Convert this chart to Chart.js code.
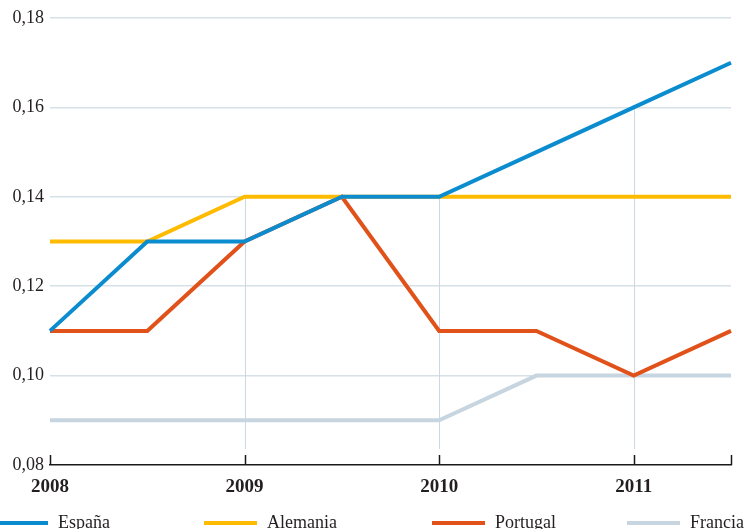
<!DOCTYPE html>
<html>
<head>
<meta charset="utf-8">
<script src="https://cdn.jsdelivr.net/npm/chart.js@4.4.1/dist/chart.umd.min.js"></script>
<style>
  html, body { margin: 0; padding: 0; background: #fff; }
  #wrap { position: relative; width: 745px; height: 529px; overflow: hidden; }
  #legend { position: absolute; left: 0; top: 510px; width: 745px; height: 24px;
            font-family: 'Liberation Serif', 'DejaVu Serif', serif; font-size: 18px; color: #231f20; }
  .item { position: absolute; top: 0; height: 24px; line-height: 24px; white-space: nowrap; }
  .sw { display: inline-block; width: 53px; height: 4px; vertical-align: middle; margin-right: 10px; position: relative; top: -1px; }
</style>
</head>
<body>
<div id="wrap">
  <canvas id="chart" width="745" height="529"></canvas>
  <div id="legend"></div>
</div>
<script>
// semi-annual periods, only full years get a tick label
const periods = ['2008', '', '2009', '', '2010', '', '2011', ''];
const espana   = [0.11, 0.13, 0.13, 0.14, 0.14, 0.15, 0.16, 0.17];
const alemania = [0.13, 0.13, 0.14, 0.14, 0.14, 0.14, 0.14, 0.14];
const portugal = [0.11, 0.11, 0.13, 0.14, 0.11, 0.11, 0.10, 0.11];
const francia  = [0.09, 0.09, 0.09, 0.09, 0.09, 0.10, 0.10, 0.10];
const seriesNames = ['España', 'Alemania', 'Portugal', 'Francia'];
const yTicks = [0.08, 0.10, 0.12, 0.14, 0.16, 0.18];

const colors = ['#0b8ccf', '#ffbb00', '#e05219', '#c6d5df'];
const FONT = "'Liberation Serif', 'DejaVu Serif', serif";

// vertical drop lines from the highest series value down to the axis
const dropLines = {
    id: 'dropLines',
    beforeDatasetsDraw(chart) {
        const { ctx, chartArea, scales } = chart;
        ctx.save();
        ctx.strokeStyle = '#cbd8e1';
        ctx.lineWidth = 1;
        periods.forEach((p, i) => {
            if (!p || i === 0) return;
            const top = Math.max(...chart.data.datasets.map(d => d.data[i]));
            const x = Math.round(scales.x.getPixelForValue(i)) + 0.5;
            ctx.beginPath();
            ctx.moveTo(x, scales.y.getPixelForValue(top));
            ctx.lineTo(x, chartArea.bottom - 16);
            ctx.stroke();
        });
        ctx.restore();
    },
    afterDatasetsDraw(chart) {
        const { ctx, chartArea, scales } = chart;
        ctx.save();
        ctx.strokeStyle = '#1a1a1a';
        ctx.lineWidth = 1.5;
        periods.forEach((p, i) => {
            if (!p && i !== periods.length - 1) return;
            const x = Math.round(scales.x.getPixelForValue(i)) + 0.5;
            ctx.beginPath();
            ctx.moveTo(x, chartArea.bottom);
            ctx.lineTo(x, chartArea.bottom - 10);
            ctx.stroke();
        });
        ctx.restore();
    }
};

const allSeries = [espana, alemania, portugal, francia];

new Chart(document.getElementById('chart'), {
    type: 'line',
    data: {
        labels: periods,
        datasets: allSeries.map((s, k) => ({
            label: seriesNames[k],
            data: s,
            borderColor: colors[k],
            borderWidth: 4,
            pointRadius: 0,
            tension: 0,
            borderJoinStyle: 'miter',
            fill: false
        }))
    },
    options: {
        responsive: false,
        animation: false,
        layout: { padding: { top: 18, right: 14, left: 0, bottom: 0 } },
        plugins: { legend: { display: false }, tooltip: { enabled: false } },
        scales: {
            x: {
                offset: false,
                grid: { display: false, drawTicks: false },
                border: { display: true, color: '#1a1a1a', width: 1.5 },
                ticks: {
                    autoSkip: false, maxRotation: 0, padding: 11,
                    color: '#231f20',
                    font: { family: FONT, size: 19, weight: 'bold' }
                },
                afterFit(scale) { scale.height = 64; }
            },
            y: {
                min: yTicks[0],
                max: yTicks[yTicks.length - 1],
                afterBuildTicks(scale) { scale.ticks = yTicks.map(v => ({ value: v })); },
                border: { display: false },
                grid: {
                    drawTicks: false,
                    lineWidth: 1.5,
                    color: ctx => ctx.tick && ctx.tick.value <= yTicks[0] ? 'rgba(0,0,0,0)' : '#d5e0e7'
                },
                ticks: {
                    padding: 6,
                    color: '#231f20',
                    font: { family: FONT, size: 18 },
                    callback: v => v.toFixed(2).replace('.', ',')
                },
                afterFit(scale) { scale.width = 50; }
            }
        }
    },
    plugins: [dropLines]
});

// legend below the chart
const legendLeft = [-5, 204, 432, 627];
const legend = document.getElementById('legend');
seriesNames.forEach((name, k) => {
    const item = document.createElement('div');
    item.className = 'item';
    item.style.left = legendLeft[k] + 'px';
    item.innerHTML = '<span class="sw" style="background:' + colors[k] + '"></span>' + name;
    legend.appendChild(item);
});
</script>
</body>
</html>
